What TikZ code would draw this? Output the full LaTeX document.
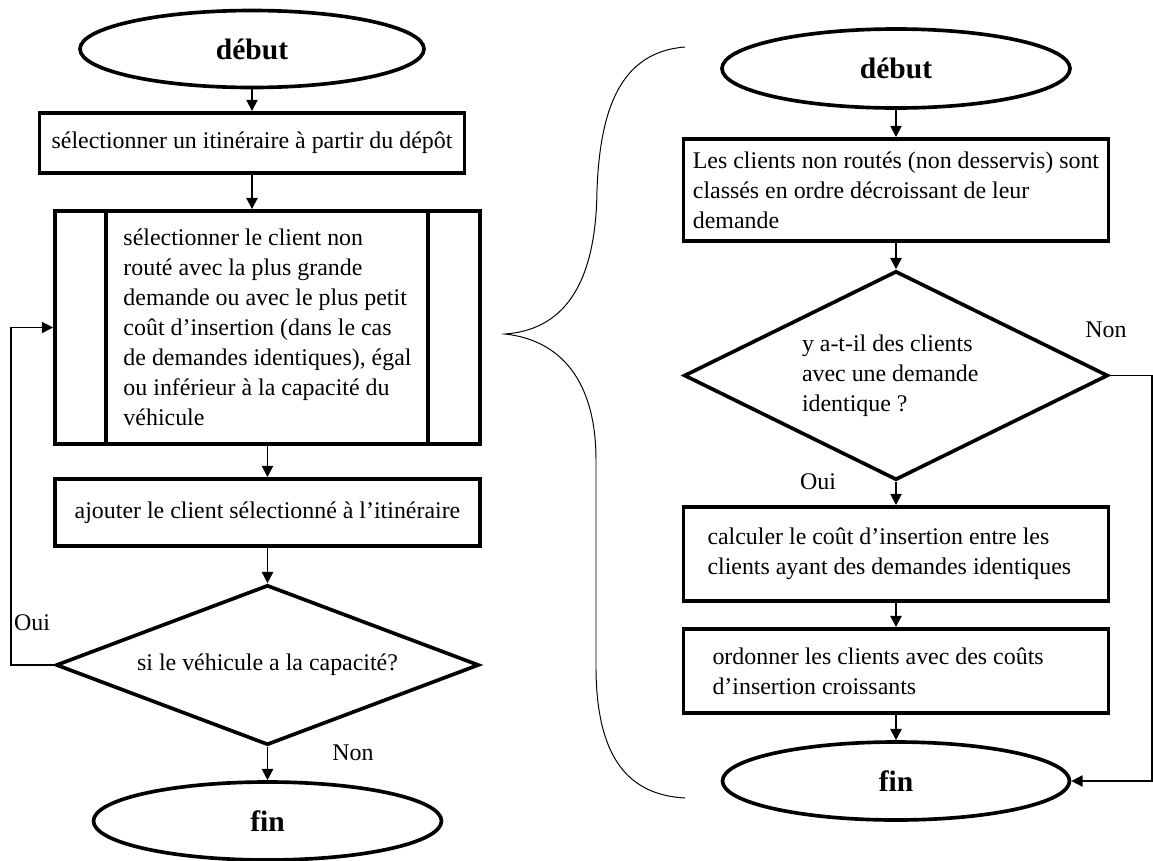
\documentclass[tikz,border=0pt]{standalone}
\usepackage{fontspec}
\setmainfont{Liberation Serif}
\usepackage{tikz}
\usetikzlibrary{shapes.geometric,arrows.meta}
\tikzstyle{boite}=[draw,rectangle,line width=2.8pt,minimum width=10.625cm,inner sep=0pt]
\tikzstyle{terminal}=[draw,ellipse,line width=2.6pt,inner sep=0pt,font=\fontsize{21}{25}\selectfont\bfseries]
\tikzstyle{decision}=[draw,diamond,line width=2.6pt,inner sep=0pt,shape aspect=2]
\tikzstyle{fleche}=[-{Triangle[length=8pt,width=8pt]},line width=1.3pt]
\tikzstyle{retour}=[-{Triangle[length=8pt,width=8pt]},line width=0.9pt]

\begin{document}
\begin{tikzpicture}[font=\fontsize{17}{21.3}\selectfont]

\useasboundingbox (0,0) rectangle (28.825,-21.525);

%%% Colonne gauche

\node [terminal,minimum width=8.6cm,minimum height=1.925cm] (debutG) at (6.3,-1.225) {début};

\node [boite,minimum height=1.5cm] (selItin) at (6.3,-3.575)
{sélectionner un itinéraire à partir du dépôt};

\node [boite,minimum height=5.825cm,align=flush left] (selClient) at (6.6875,-8.1875)
{sélectionner le client non\\
routé avec la plus grande\\
demande ou avec le plus petit\\
coût d'insertion (dans le cas\\
de demandes identiques), égal\\
ou inférieur à la capacité du\\
véhicule};

% barres du sous-programme
\draw [line width=2.2pt] ([xshift=1.325cm]selClient.north west) -- ([xshift=1.325cm]selClient.south west);
\draw [line width=2.2pt] ([xshift=-1.35cm]selClient.north east) -- ([xshift=-1.35cm]selClient.south east);

\node [boite,minimum height=1.675cm] (ajoutClient) at (6.6875,-12.8125)
{ajouter le client sélectionné à l'itinéraire};

\node [decision,minimum width=10.575cm,minimum height=4cm] (testCap) at (6.6875,-16.625)
{si le véhicule a la capacité?};

\node [terminal,minimum width=8.7cm,minimum height=1.95cm] (finG) at (6.6875,-20.525) {fin};

\draw [fleche] (debutG) -- (selItin);
\draw [fleche] (selItin.south) -- (selItin.south |- selClient.north);
\draw [fleche] (selClient) -- (ajoutClient);
\draw [fleche] (ajoutClient) -- (testCap);
\draw [fleche] (testCap) -- (finG);

% Boucle Oui
\coordinate (bordG) at (0.275,-16.625);
\draw [retour] (testCap.west) -- (bordG) |- (selClient.west);

\node (ouiG) at (0.8,-15.575) {Oui};
\node (nonG) at (8.825,-18.825) {Non};


%%% Accolade

\draw [line width=0.7pt] (17.125,-1.175) .. controls (15.5,-1.3) and (15.0,-2.75) .. (14.925,-4.75)
.. controls (14.9,-7.25) and (14.0,-8.25) .. (12.625,-8.35)
.. controls (14.0,-8.5) and (14.9,-9.5) .. (14.9,-11.5)
-- (14.9,-16.75)
.. controls (14.925,-19.0) and (15.75,-19.875) .. (17.125,-19.95);


%%% Colonne droite

\node [terminal,minimum width=8.7cm,minimum height=1.975cm] (debutD) at (22.4,-1.7125) {début};

\node [boite,minimum height=2.55cm,align=flush left] (triClients) at (22.4,-4.75)
{Les clients non routés (non desservis) sont\\
classés en ordre décroissant de leur\\
demande};

\node [decision,minimum width=10.6cm,minimum height=5.225cm,text width=4.7cm,align=flush left] (testIdent) at (22.4,-9.3875)
{y a-t-il des clients\\
avec une demande\\
identique ?};

\node [boite,minimum height=2.35cm,text width=9.425cm,align=flush left] (calcCout) at (22.4,-13.85)
{calculer le coût d'insertion entre les\\
clients ayant des demandes identiques};

\node [boite,minimum height=2.1cm,text width=9.175cm,align=flush left] (ordClients) at (22.4,-16.775)
{ordonner les clients avec des coûts\\
d'insertion croissants};

\node [terminal,minimum width=8.675cm,minimum height=1.95cm] (finD) at (22.4,-19.525) {fin};

\draw [fleche] (debutD) -- (triClients);
\draw [fleche] (triClients) -- (testIdent);
\draw [fleche] (testIdent) -- (calcCout);
\draw [fleche] (calcCout) -- (ordClients);
\draw [fleche] (ordClients) -- (finD);

% Boucle Non
\coordinate (bordD) at (28.8,-9.3875);
\draw [retour] (testIdent.east) -- (bordD) |- (finD.east);

\node (nonD) at (27.65,-8.25) {Non};
\node (ouiD) at (20.45,-12.05) {Oui};

\end{tikzpicture}
\end{document}
